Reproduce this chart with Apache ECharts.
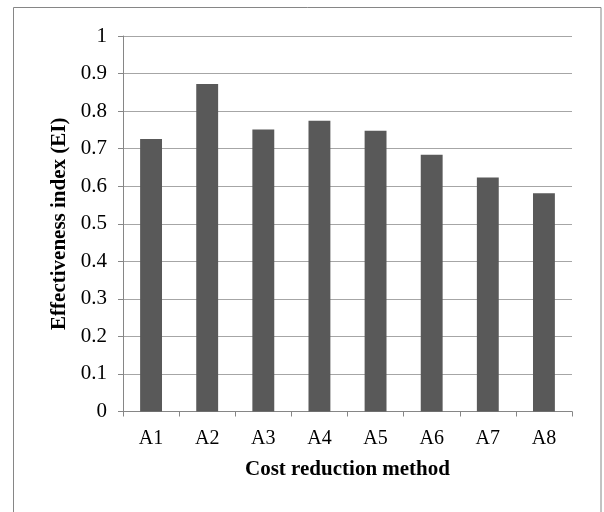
<!DOCTYPE html>
<html>
<head>
<meta charset="utf-8">
<script src="https://cdn.jsdelivr.net/npm/echarts@6/dist/echarts.min.js"></script>
<style>
html,body{margin:0;padding:0;background:#fff;}
#chart{width:604px;height:512px;}
</style>
</head>
<body>
<div id="chart"></div>
<script>
const categories = ['A1','A2','A3','A4','A5','A6','A7','A8'];
const values = [0.726, 0.872, 0.751, 0.774, 0.748, 0.684, 0.623, 0.581];
const yTicks = [0, 0.1, 0.2, 0.3, 0.4, 0.5, 0.6, 0.7, 0.8, 0.9, 1];

const font = '"Liberation Serif", "Times New Roman", serif';
const chart = echarts.init(document.getElementById('chart'), null, {renderer:'canvas'});
chart.setOption({
  animation: false,
  backgroundColor: '#ffffff',
  graphic: [{
    type: 'rect',
    shape: {x: 13.5, y: 7.5, width: 587.5, height: 520},
    style: {fill: 'none', stroke: '#868686', lineWidth: 1},
    silent: true
  }],
  grid: {left: 123, right: 32, top: 36, bottom: 100.5, containLabel: false},
  xAxis: {
    type: 'category',
    data: categories,
    boundaryGap: true,
    name: 'Cost reduction method',
    nameLocation: 'middle',
    nameGap: 48,
    nameTextStyle: {fontFamily: font, fontSize: 21, fontWeight: 'bold', color: '#000'},
    axisLine: {show: true, lineStyle: {color: '#868686', width: 1}},
    axisTick: {show: true, interval: 0, length: 5, alignWithLabel: false, lineStyle: {color: '#868686'}},
    axisLabel: {fontFamily: font, fontSize: 20, color: '#000', margin: 17, interval: 0},
    splitLine: {show: false}
  },
  yAxis: {
    type: 'value',
    min: 0, max: 1, interval: 0.1,
    name: 'Effectiveness index (EI)',
    nameLocation: 'middle',
    nameGap: 51,
    nameTextStyle: {fontFamily: font, fontSize: 21, fontWeight: 'bold', color: '#000'},
    axisLine: {show: true, lineStyle: {color: '#868686', width: 1}},
    axisTick: {show: true, length: 5, lineStyle: {color: '#868686'}},
    axisLabel: {fontFamily: font, fontSize: 21, color: '#000', margin: 16,
      formatter: function(v){ const t = yTicks.find(x => Math.abs(x - v) < 1e-9); return t === undefined ? '' : String(t); }},
    splitLine: {show: true, lineStyle: {color: '#a6a6a6', width: 1}}
  },
  series: [{
    type: 'bar',
    data: values,
    barWidth: '39%',
    itemStyle: {color: '#595959'}
  }]
});
</script>
</body>
</html>
